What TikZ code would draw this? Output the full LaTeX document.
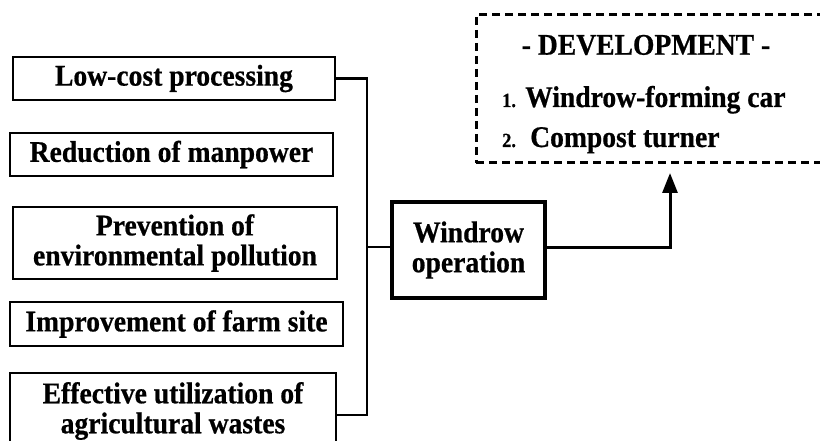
\documentclass[tikz,border=0pt]{standalone}
\usepackage{fontspec}
\setmainfont{Liberation Serif}[FakeStretch=0.92, BoldFeatures={FakeBold=0.6}]
\usetikzlibrary{arrows.meta}

\tikzset{
  goalbox/.style={draw, line width=2.2pt, align=center, inner sep=0pt,
    font=\bfseries\fontsize{30}{30}\selectfont},
  plainlabel/.style={inner sep=0pt, font=\bfseries\fontsize{30}{30}\selectfont},
}

\begin{document}
\begin{tikzpicture}[x=1pt,y=-1pt]
\useasboundingbox (0,0) rectangle (820,441);

% the goals on the left
\node[goalbox, minimum width=322, minimum height=43] (lowcost) at (174,78.5) {Low-cost processing};
\node[goalbox, minimum width=323, minimum height=43] (manpower) at (171.5,154.5) {Reduction of manpower};
\node[goalbox, minimum width=324, minimum height=72] (pollution) at (175,243) {Prevention of\\environmental pollution};
\node[goalbox, minimum width=333, minimum height=44] (farmsite) at (176.5,324) {Improvement of farm site};
\node[goalbox, minimum width=326, minimum height=76] (wastes) at (173,411) {Effective utilization of\\agricultural wastes};

% the middle box
\node[goalbox, line width=3.2pt, minimum width=153, minimum height=96] (windrow) at (468.5,250) {Windrow\\operation};

% the dashed box, cut off at the right
\node[draw, line width=3pt, dash pattern=on 8pt off 5pt, minimum width=354, minimum height=148] (devbox) at (653,89) {};
\node[plainlabel] (devtitle) at (646,45) {- DEVELOPMENT -};
\node[plainlabel, anchor=base west] (devone) at (502,107) {{\fontsize{20}{24}\selectfont 1.} Windrow-forming car};
\node[plainlabel, anchor=base west] (devtwo) at (502,147) {{\fontsize{20}{24}\selectfont 2.}\, Compost turner};

% bracket joining the goals
\coordinate (bus) at (367,247);
\draw[line width=2.6pt] (lowcost.east) -| (bus);
\draw[line width=2.6pt] ([yshift=-4pt]wastes.east) -| (bus);
\draw[line width=2.6pt] (bus) -- (windrow.west |- bus);

% arrow up to the development box
\coordinate (tip) at (670,173);
\draw[line width=3pt, -{Triangle[length=20pt,width=15pt]}] (windrow.east |- bus) -| (tip);
\end{tikzpicture}
\end{document}
